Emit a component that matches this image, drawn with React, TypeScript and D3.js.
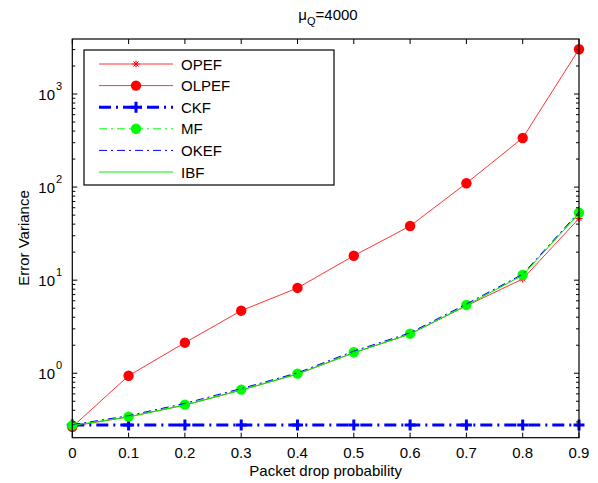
import * as d3 from "d3";
import { useRef, useEffect } from "react";

// packet drop probabilities
const probs = [0, 0.1, 0.2, 0.3, 0.4, 0.5, 0.6, 0.7, 0.8, 0.9];

// error variance per filter
const opef = [0.27, 0.34, 0.455, 0.66, 0.98, 1.66, 2.64, 5.3, 10.3, 46];
const olpef = [0.265, 0.94, 2.13, 4.7, 8.25, 18.3, 38.2, 110, 337, 3030];
const ckf = [0.278, 0.278, 0.278, 0.278, 0.278, 0.278, 0.278, 0.278, 0.278, 0.278];
const mf = [0.275, 0.342, 0.46, 0.667, 0.99, 1.68, 2.66, 5.42, 11.4, 53];
const okef = [0.28, 0.35, 0.475, 0.685, 1.01, 1.73, 2.72, 5.55, 11.6, 54];
const ibf = [0.275, 0.34, 0.455, 0.66, 0.98, 1.66, 2.64, 5.35, 11.3, 52];

const xTicks = [0, 0.1, 0.2, 0.3, 0.4, 0.5, 0.6, 0.7, 0.8, 0.9];
const yTicks = [0, 1, 2, 3]; // exponents

type Series = {
  name: string;
  values: number[];
  color: string;
  width: number;
  dash: string | null;
  marker: "none" | "star" | "circle" | "plus";
};

const series: Series[] = [
  { name: "OPEF", values: opef, color: "#ff0000", width: 0.8, dash: null, marker: "star" },
  { name: "OLPEF", values: olpef, color: "#ff0000", width: 0.8, dash: null, marker: "circle" },
  { name: "CKF", values: ckf, color: "#0000ff", width: 3, dash: "12,5,2,5", marker: "plus" },
  { name: "MF", values: mf, color: "#00ff00", width: 1, dash: "8,4,2,4", marker: "circle" },
  { name: "OKEF", values: okef, color: "#0000ff", width: 1, dash: "8,4,2,4", marker: "none" },
  { name: "IBF", values: ibf, color: "#00ee00", width: 1, dash: null, marker: "none" },
];

const font = "Liberation Sans, Arial, Helvetica, sans-serif";
const fs = 15;

const App = () => {
  const ref = useRef<SVGSVGElement>(null);

  useEffect(() => {
    const svg = d3.select(ref.current);
    svg.selectAll("*").remove();

    const left = 72.3, right = 579, top = 39, bottom = 437.7;

    const x = d3.scaleLinear().domain([0, 0.9]).range([left, right]);
    const y = d3.scaleLog().domain([0.203, 3900]).range([bottom, top]);

    svg.append("rect").attr("x", 0).attr("y", 0).attr("width", 598).attr("height", 483).attr("fill", "#fff");

    const plot = svg.append("g");

    const drawMarker = (g: any, s: Series, cx: number, cy: number) => {
      if (s.marker === "circle") {
        g.append("circle").attr("cx", cx).attr("cy", cy).attr("r", 5.2).attr("fill", s.color);
      } else if (s.marker === "plus") {
        g.append("path")
          .attr("d", `M${cx - 5.5},${cy}H${cx + 5.5}M${cx},${cy - 5.5}V${cy + 5.5}`)
          .attr("stroke", s.color).attr("stroke-width", 3);
      } else if (s.marker === "star") {
        const r = 3.5;
        g.append("path")
          .attr("d", `M${cx - r},${cy}H${cx + r}M${cx},${cy - r}V${cy + r}M${cx - r * 0.7},${cy - r * 0.7}L${cx + r * 0.7},${cy + r * 0.7}M${cx - r * 0.7},${cy + r * 0.7}L${cx + r * 0.7},${cy - r * 0.7}`)
          .attr("stroke", s.color).attr("stroke-width", 1);
      }
    };

    const line = d3.line<number>().x((_, i) => x(probs[i])).y((d) => y(d));

    series.forEach((s) => {
      const p = plot.append("path")
        .attr("d", line(s.values))
        .attr("fill", "none")
        .attr("stroke", s.color)
        .attr("stroke-width", s.width);
      if (s.dash) p.attr("stroke-dasharray", s.dash);
      s.values.forEach((v, i) => drawMarker(plot, s, x(probs[i]), y(v)));
    });

    // frame
    svg.append("rect")
      .attr("x", left).attr("y", top).attr("width", right - left).attr("height", bottom - top)
      .attr("fill", "none").attr("stroke", "#000").attr("stroke-width", 1.2);

    // x ticks
    xTicks.forEach((t) => {
      const xx = x(t);
      svg.append("line").attr("x1", xx).attr("x2", xx).attr("y1", bottom).attr("y2", bottom - 5).attr("stroke", "#000");
      svg.append("line").attr("x1", xx).attr("x2", xx).attr("y1", top).attr("y2", top + 5).attr("stroke", "#000");
      svg.append("text").attr("x", xx).attr("y", 458).attr("text-anchor", "middle")
        .attr("font-family", font).attr("font-size", fs).text(String(t));
    });

    // y ticks
    const [d0, d1] = y.domain();
    for (let e = Math.floor(Math.log10(d0)); e <= Math.ceil(Math.log10(d1)); e++) {
      for (let m = 1; m <= 9; m++) {
        const v = m * Math.pow(10, e);
        if (v < d0 || v > d1) continue;
        const yy = y(v);
        const len = m === 1 ? 5 : 3;
        svg.append("line").attr("x1", left).attr("x2", left + len).attr("y1", yy).attr("y2", yy).attr("stroke", "#000");
        svg.append("line").attr("x1", right).attr("x2", right - len).attr("y1", yy).attr("y2", yy).attr("stroke", "#000");
      }
    }
    yTicks.forEach((e) => {
      const yy = y(Math.pow(10, e));
      svg.append("text").attr("x", 55).attr("y", yy + 6).attr("text-anchor", "end")
        .attr("font-family", font).attr("font-size", fs).text("10");
      svg.append("text").attr("x", 56).attr("y", yy - 4)
        .attr("font-family", font).attr("font-size", 11).text(String(e));
    });

    // labels
    svg.append("text").attr("x", 325.6).attr("y", 476).attr("text-anchor", "middle")
      .attr("font-family", font).attr("font-size", fs).text("Packet drop probability");
    svg.append("text").attr("transform", `translate(29,238) rotate(-90)`).attr("text-anchor", "middle")
      .attr("font-family", font).attr("font-size", fs).text("Error Variance");

    const title = svg.append("text").attr("x", 328).attr("y", 20).attr("text-anchor", "middle")
      .attr("font-family", font).attr("font-size", fs);
    title.append("tspan").text("μ");
    title.append("tspan").attr("font-size", 11).attr("dy", 5).text("Q");
    title.append("tspan").attr("dy", -5).text("=4000");

    // legend
    const lg = svg.append("g");
    lg.append("rect").attr("x", 84).attr("y", 50).attr("width", 250).attr("height", 135)
      .attr("fill", "#fff").attr("stroke", "#000").attr("stroke-width", 1.2);
    series.forEach((s, i) => {
      const ly = 64 + i * 21.6;
      const p = lg.append("path").attr("d", `M99,${ly}H173`).attr("fill", "none")
        .attr("stroke", s.color).attr("stroke-width", s.width);
      if (s.dash) p.attr("stroke-dasharray", s.dash);
      drawMarker(lg, s, 136, ly);
      lg.append("text").attr("x", 181).attr("y", ly + 5.5).attr("font-family", font).attr("font-size", fs).text(s.name);
    });
  }, []);

  return (
    <svg ref={ref} width={598} height={483} style={{ position: "absolute", left: 0, top: 0 }}></svg>
  );
};

export default App;
